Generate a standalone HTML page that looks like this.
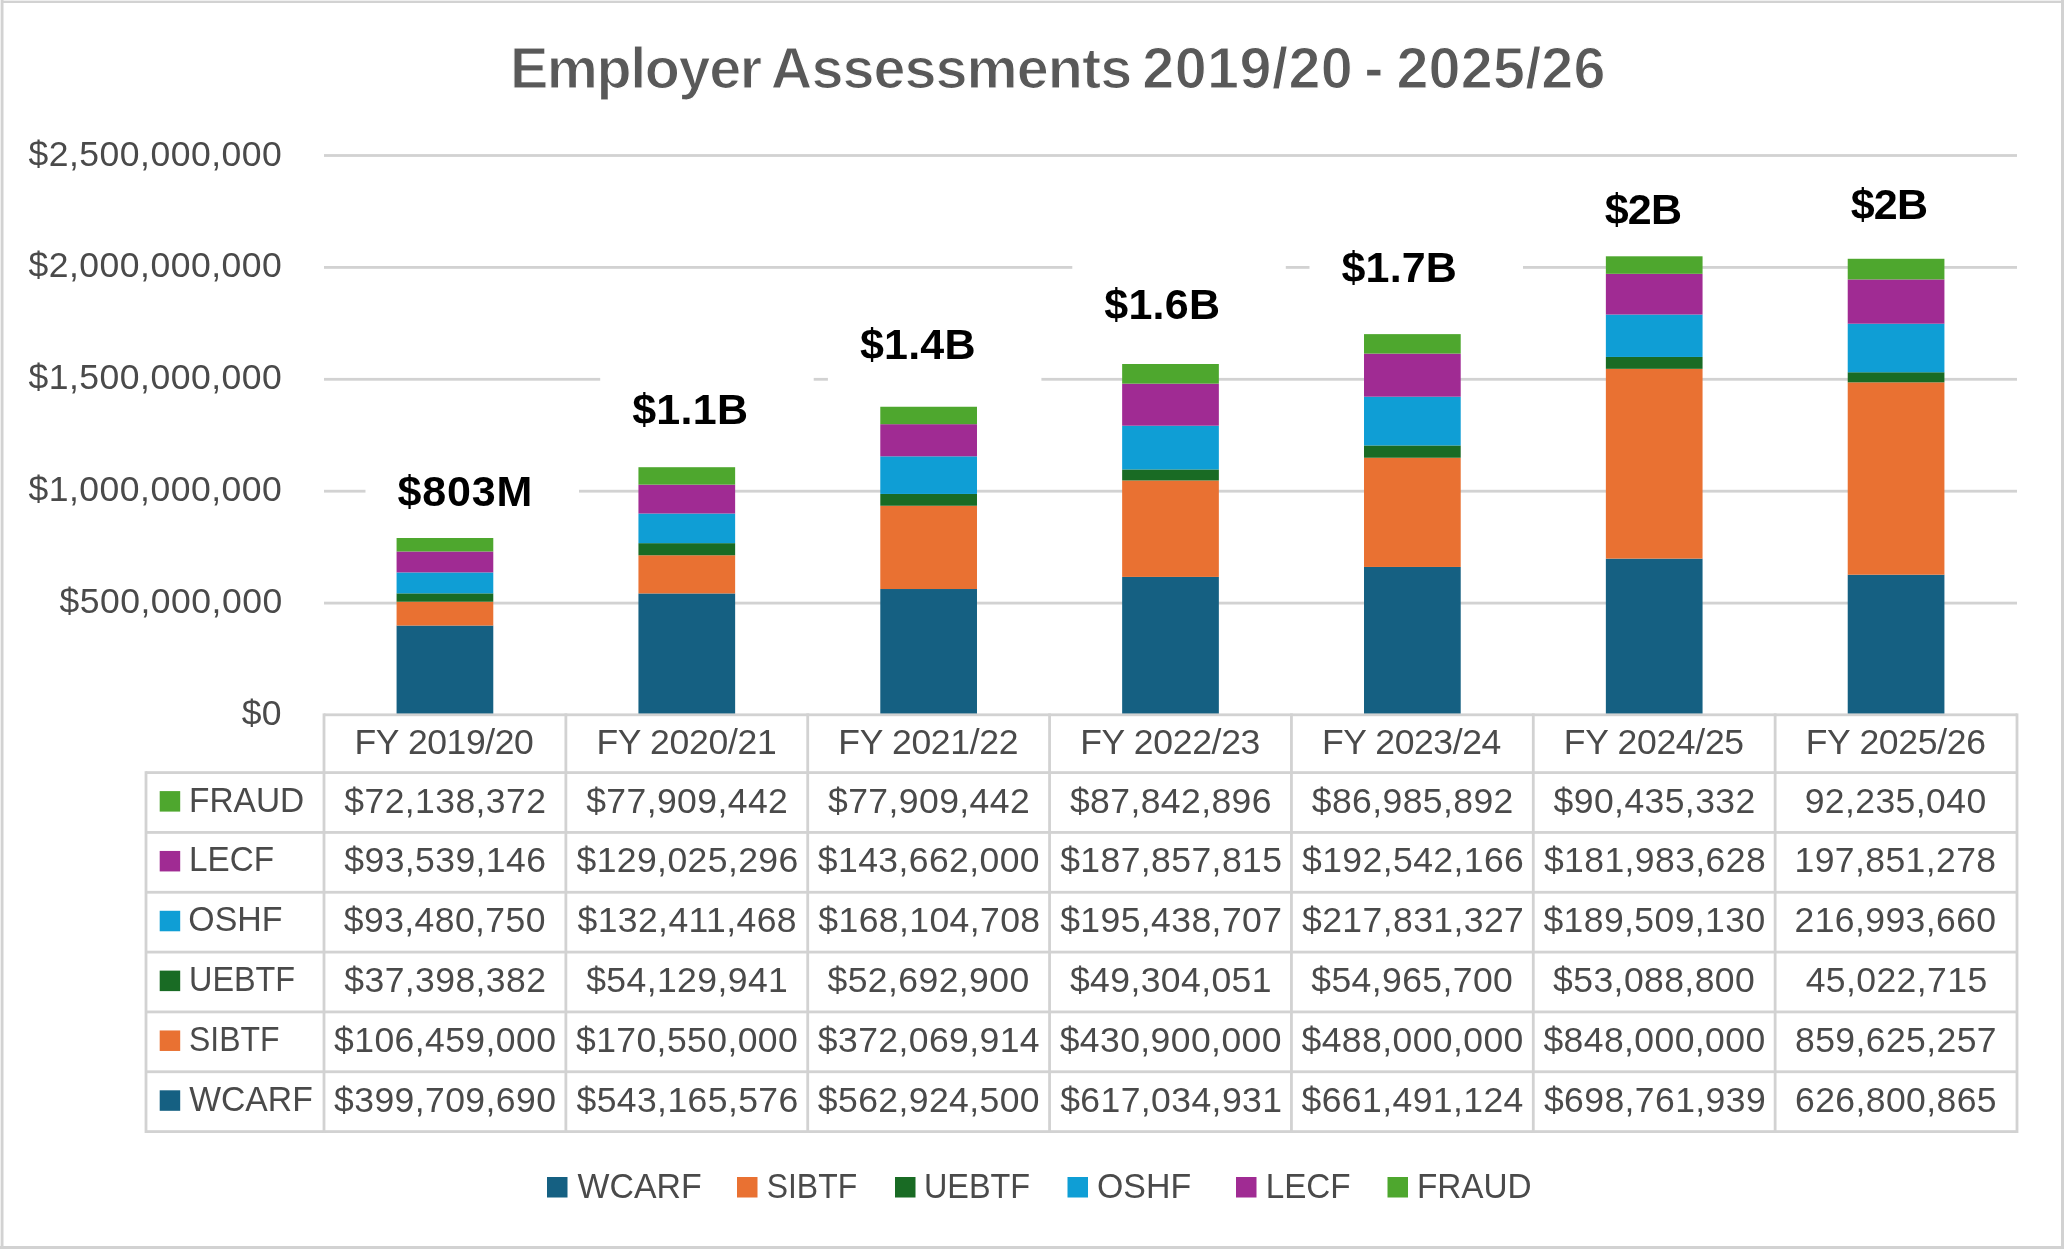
<!DOCTYPE html>
<html><head><meta charset="utf-8"><title>Employer Assessments 2019/20 - 2025/26</title>
<style>html,body{margin:0;padding:0;background:#fff;width:2064px;height:1249px;overflow:hidden} svg{will-change:transform} svg text{font-family:"Liberation Sans",sans-serif}</style>
</head><body>
<svg width="2064" height="1249" viewBox="0 0 2064 1249" style="display:block">
<rect x="0" y="0" width="2064" height="1249" fill="#ffffff"/>
<rect x="0" y="0" width="2064" height="1" fill="#efefef"/>
<rect x="0" y="1" width="2064" height="2" fill="#d2d2d2"/>
<rect x="0" y="0" width="1" height="1249" fill="#efefef"/>
<rect x="1" y="0" width="2.5" height="1249" fill="#d2d2d2"/>
<rect x="2061" y="0" width="3" height="1249" fill="#d2d2d2"/>
<rect x="0" y="1246" width="2064" height="3" fill="#d2d2d2"/>
<rect x="324" y="601.70" width="1693" height="2.8" fill="#d2d2d2"/>
<rect x="324" y="489.80" width="1693" height="2.8" fill="#d2d2d2"/>
<rect x="324" y="377.90" width="1693" height="2.8" fill="#d2d2d2"/>
<rect x="324" y="266.00" width="1693" height="2.8" fill="#d2d2d2"/>
<rect x="324" y="154.10" width="1693" height="2.8" fill="#d2d2d2"/>
<rect x="365.50" y="451.10" width="213.5" height="80" fill="#ffffff"/>
<rect x="600.20" y="368.70" width="213.5" height="80" fill="#ffffff"/>
<rect x="827.90" y="303.70" width="213.5" height="80" fill="#ffffff"/>
<rect x="1072.30" y="263.70" width="213.5" height="80" fill="#ffffff"/>
<rect x="1309.50" y="226.70" width="213.5" height="80" fill="#ffffff"/>
<rect x="1572.70" y="168.70" width="213.5" height="80" fill="#ffffff"/>
<rect x="1818.80" y="163.70" width="213.5" height="80" fill="#ffffff"/>
<rect x="396.58" y="625.54" width="96.7" height="89.46" fill="#156082"/>
<rect x="396.58" y="601.72" width="96.7" height="23.83" fill="#E97132"/>
<rect x="396.58" y="593.35" width="96.7" height="8.37" fill="#196B24"/>
<rect x="396.58" y="572.43" width="96.7" height="20.92" fill="#0F9ED5"/>
<rect x="396.58" y="551.49" width="96.7" height="20.93" fill="#A02B93"/>
<rect x="396.58" y="538.00" width="96.7" height="13.49" fill="#4EA72E"/>
<rect x="638.44" y="593.44" width="96.7" height="121.56" fill="#156082"/>
<rect x="638.44" y="555.27" width="96.7" height="38.17" fill="#E97132"/>
<rect x="638.44" y="543.16" width="96.7" height="12.11" fill="#196B24"/>
<rect x="638.44" y="513.52" width="96.7" height="29.63" fill="#0F9ED5"/>
<rect x="638.44" y="484.65" width="96.7" height="28.88" fill="#A02B93"/>
<rect x="638.44" y="467.21" width="96.7" height="17.44" fill="#4EA72E"/>
<rect x="880.29" y="589.02" width="96.7" height="125.98" fill="#156082"/>
<rect x="880.29" y="505.75" width="96.7" height="83.27" fill="#E97132"/>
<rect x="880.29" y="493.96" width="96.7" height="11.79" fill="#196B24"/>
<rect x="880.29" y="456.33" width="96.7" height="37.62" fill="#0F9ED5"/>
<rect x="880.29" y="424.18" width="96.7" height="32.15" fill="#A02B93"/>
<rect x="880.29" y="406.75" width="96.7" height="17.44" fill="#4EA72E"/>
<rect x="1122.15" y="576.91" width="96.7" height="138.09" fill="#156082"/>
<rect x="1122.15" y="480.47" width="96.7" height="96.44" fill="#E97132"/>
<rect x="1122.15" y="469.44" width="96.7" height="11.03" fill="#196B24"/>
<rect x="1122.15" y="425.70" width="96.7" height="43.74" fill="#0F9ED5"/>
<rect x="1122.15" y="383.66" width="96.7" height="42.04" fill="#A02B93"/>
<rect x="1122.15" y="364.00" width="96.7" height="19.66" fill="#4EA72E"/>
<rect x="1364.01" y="566.96" width="96.7" height="148.04" fill="#156082"/>
<rect x="1364.01" y="457.74" width="96.7" height="109.21" fill="#E97132"/>
<rect x="1364.01" y="445.44" width="96.7" height="12.30" fill="#196B24"/>
<rect x="1364.01" y="396.69" width="96.7" height="48.75" fill="#0F9ED5"/>
<rect x="1364.01" y="353.60" width="96.7" height="43.09" fill="#A02B93"/>
<rect x="1364.01" y="334.13" width="96.7" height="19.47" fill="#4EA72E"/>
<rect x="1605.86" y="558.62" width="96.7" height="156.38" fill="#156082"/>
<rect x="1605.86" y="368.83" width="96.7" height="189.78" fill="#E97132"/>
<rect x="1605.86" y="356.95" width="96.7" height="11.88" fill="#196B24"/>
<rect x="1605.86" y="314.54" width="96.7" height="42.41" fill="#0F9ED5"/>
<rect x="1605.86" y="273.81" width="96.7" height="40.73" fill="#A02B93"/>
<rect x="1605.86" y="256.30" width="96.7" height="17.51" fill="#4EA72E"/>
<rect x="1847.72" y="574.72" width="96.7" height="140.28" fill="#156082"/>
<rect x="1847.72" y="382.34" width="96.7" height="192.38" fill="#E97132"/>
<rect x="1847.72" y="372.26" width="96.7" height="10.08" fill="#196B24"/>
<rect x="1847.72" y="323.70" width="96.7" height="48.56" fill="#0F9ED5"/>
<rect x="1847.72" y="279.42" width="96.7" height="44.28" fill="#A02B93"/>
<rect x="1847.72" y="258.78" width="96.7" height="20.64" fill="#4EA72E"/>
<text x="397.50" y="506.10" font-size="43" font-weight="bold" fill="#000000" letter-spacing="0.850">$803M</text>
<text x="632.20" y="423.70" font-size="43" font-weight="bold" fill="#000000" letter-spacing="0.250">$1.1B</text>
<text x="859.90" y="358.70" font-size="43" font-weight="bold" fill="#000000" letter-spacing="0.225">$1.4B</text>
<text x="1104.30" y="318.70" font-size="43" font-weight="bold" fill="#000000" letter-spacing="0.225">$1.6B</text>
<text x="1341.50" y="281.70" font-size="43" font-weight="bold" fill="#000000" letter-spacing="0.150">$1.7B</text>
<text x="1604.70" y="223.70" font-size="43" font-weight="bold" fill="#000000" letter-spacing="-0.800">$2B</text>
<text x="1850.80" y="218.70" font-size="43" font-weight="bold" fill="#000000" letter-spacing="-0.850">$2B</text>
<text x="509.90" y="87.90" font-size="57.5" font-weight="bold" fill="#595959" letter-spacing="-1.400" stroke="#ffffff" stroke-width="1.2">Employer</text>
<text x="770.80" y="87.90" font-size="57.5" font-weight="bold" fill="#595959" letter-spacing="-0.940" stroke="#ffffff" stroke-width="1.2">Assessments</text>
<text x="1142.20" y="87.90" font-size="57.5" font-weight="bold" fill="#595959" letter-spacing="0.467" stroke="#ffffff" stroke-width="1.2">2019/20</text>
<text x="1364.30" y="87.90" font-size="57.5" font-weight="bold" fill="#595959" letter-spacing="0.000" stroke="#ffffff" stroke-width="1.2">-</text>
<text x="1396.40" y="87.90" font-size="57.5" font-weight="bold" fill="#595959" letter-spacing="0.217" stroke="#ffffff" stroke-width="1.2">2025/26</text>
<text x="241.70" y="725.00" font-size="35.5" font-weight="normal" fill="#4a4a4a" letter-spacing="0.300">$0</text>
<text x="59.50" y="613.10" font-size="35.5" font-weight="normal" fill="#4a4a4a" letter-spacing="0.500">$500,000,000</text>
<text x="28.50" y="501.20" font-size="35.5" font-weight="normal" fill="#4a4a4a" letter-spacing="0.500">$1,000,000,000</text>
<text x="28.50" y="389.30" font-size="35.5" font-weight="normal" fill="#4a4a4a" letter-spacing="0.500">$1,500,000,000</text>
<text x="28.50" y="277.40" font-size="35.5" font-weight="normal" fill="#4a4a4a" letter-spacing="0.500">$2,000,000,000</text>
<text x="28.50" y="165.50" font-size="35.5" font-weight="normal" fill="#4a4a4a" letter-spacing="0.500">$2,500,000,000</text>
<rect x="324" y="713.40" width="1693" height="2.8" fill="#d2d2d2"/>
<rect x="146" y="771.20" width="1871" height="2.8" fill="#d2d2d2"/>
<rect x="146" y="831.03" width="1871" height="2.8" fill="#d2d2d2"/>
<rect x="146" y="890.86" width="1871" height="2.8" fill="#d2d2d2"/>
<rect x="146" y="950.69" width="1871" height="2.8" fill="#d2d2d2"/>
<rect x="146" y="1010.52" width="1871" height="2.8" fill="#d2d2d2"/>
<rect x="146" y="1070.35" width="1871" height="2.8" fill="#d2d2d2"/>
<rect x="146" y="1130.18" width="1871" height="2.8" fill="#d2d2d2"/>
<rect x="144.60" y="771.20" width="2.8" height="361.78" fill="#d2d2d2"/>
<rect x="322.60" y="713.40" width="2.8" height="419.58" fill="#d2d2d2"/>
<rect x="564.46" y="713.40" width="2.8" height="419.58" fill="#d2d2d2"/>
<rect x="806.31" y="713.40" width="2.8" height="419.58" fill="#d2d2d2"/>
<rect x="1048.17" y="713.40" width="2.8" height="419.58" fill="#d2d2d2"/>
<rect x="1290.03" y="713.40" width="2.8" height="419.58" fill="#d2d2d2"/>
<rect x="1531.89" y="713.40" width="2.8" height="419.58" fill="#d2d2d2"/>
<rect x="1773.74" y="713.40" width="2.8" height="419.58" fill="#d2d2d2"/>
<rect x="2015.60" y="713.40" width="2.8" height="419.58" fill="#d2d2d2"/>
<text x="354.58" y="753.90" font-size="35.5" font-weight="normal" fill="#4a4a4a" letter-spacing="-0.411">FY 2019/20</text>
<text x="596.44" y="753.90" font-size="35.5" font-weight="normal" fill="#4a4a4a" letter-spacing="-0.300">FY 2020/21</text>
<text x="838.29" y="753.90" font-size="35.5" font-weight="normal" fill="#4a4a4a" letter-spacing="-0.300">FY 2021/22</text>
<text x="1080.15" y="753.90" font-size="35.5" font-weight="normal" fill="#4a4a4a" letter-spacing="-0.300">FY 2022/23</text>
<text x="1322.01" y="753.90" font-size="35.5" font-weight="normal" fill="#4a4a4a" letter-spacing="-0.411">FY 2023/24</text>
<text x="1563.86" y="753.90" font-size="35.5" font-weight="normal" fill="#4a4a4a" letter-spacing="-0.300">FY 2024/25</text>
<text x="1805.72" y="753.90" font-size="35.5" font-weight="normal" fill="#4a4a4a" letter-spacing="-0.300">FY 2025/26</text>
<rect x="159.7" y="791.10" width="20.5" height="20.5" fill="#4EA72E"/>
<text transform="translate(191.80,811.60) scale(0.9424,1)" x="-3.00" y="0" font-size="35.5" font-weight="normal" fill="#4a4a4a">FRAUD</text>
<text x="344.33" y="812.50" font-size="35.5" font-weight="normal" fill="#4a4a4a" letter-spacing="0.420">$72,138,372</text>
<text x="586.19" y="812.50" font-size="35.5" font-weight="normal" fill="#4a4a4a" letter-spacing="0.420">$77,909,442</text>
<text x="828.04" y="812.50" font-size="35.5" font-weight="normal" fill="#4a4a4a" letter-spacing="0.420">$77,909,442</text>
<text x="1069.90" y="812.50" font-size="35.5" font-weight="normal" fill="#4a4a4a" letter-spacing="0.420">$87,842,896</text>
<text x="1311.76" y="812.50" font-size="35.5" font-weight="normal" fill="#4a4a4a" letter-spacing="0.420">$86,985,892</text>
<text x="1553.61" y="812.50" font-size="35.5" font-weight="normal" fill="#4a4a4a" letter-spacing="0.420">$90,435,332</text>
<text x="1804.68" y="812.50" font-size="35.5" font-weight="normal" fill="#4a4a4a" letter-spacing="0.420">92,235,040</text>
<rect x="159.7" y="850.94" width="20.5" height="20.5" fill="#A02B93"/>
<text transform="translate(191.80,871.44) scale(0.9368,1)" x="-3.00" y="0" font-size="35.5" font-weight="normal" fill="#4a4a4a">LECF</text>
<text x="344.33" y="872.34" font-size="35.5" font-weight="normal" fill="#4a4a4a" letter-spacing="0.420">$93,539,146</text>
<text x="576.48" y="872.34" font-size="35.5" font-weight="normal" fill="#4a4a4a" letter-spacing="0.420">$129,025,296</text>
<text x="817.83" y="872.34" font-size="35.5" font-weight="normal" fill="#4a4a4a" letter-spacing="0.420">$143,662,000</text>
<text x="1060.19" y="872.34" font-size="35.5" font-weight="normal" fill="#4a4a4a" letter-spacing="0.420">$187,857,815</text>
<text x="1302.05" y="872.34" font-size="35.5" font-weight="normal" fill="#4a4a4a" letter-spacing="0.420">$192,542,166</text>
<text x="1543.90" y="872.34" font-size="35.5" font-weight="normal" fill="#4a4a4a" letter-spacing="0.420">$181,983,628</text>
<text x="1794.47" y="872.34" font-size="35.5" font-weight="normal" fill="#4a4a4a" letter-spacing="0.420">197,851,278</text>
<rect x="159.7" y="910.78" width="20.5" height="20.5" fill="#0F9ED5"/>
<text transform="translate(190.20,931.28) scale(0.9542,1)" x="-2.00" y="0" font-size="35.5" font-weight="normal" fill="#4a4a4a">OSHF</text>
<text x="343.83" y="932.18" font-size="35.5" font-weight="normal" fill="#4a4a4a" letter-spacing="0.420">$93,480,750</text>
<text x="577.48" y="932.18" font-size="35.5" font-weight="normal" fill="#4a4a4a" letter-spacing="0.420">$132,411,468</text>
<text x="818.33" y="932.18" font-size="35.5" font-weight="normal" fill="#4a4a4a" letter-spacing="0.420">$168,104,708</text>
<text x="1060.19" y="932.18" font-size="35.5" font-weight="normal" fill="#4a4a4a" letter-spacing="0.420">$195,438,707</text>
<text x="1302.05" y="932.18" font-size="35.5" font-weight="normal" fill="#4a4a4a" letter-spacing="0.420">$217,831,327</text>
<text x="1543.40" y="932.18" font-size="35.5" font-weight="normal" fill="#4a4a4a" letter-spacing="0.420">$189,509,130</text>
<text x="1794.47" y="932.18" font-size="35.5" font-weight="normal" fill="#4a4a4a" letter-spacing="0.420">216,993,660</text>
<rect x="159.7" y="970.62" width="20.5" height="20.5" fill="#196B24"/>
<text transform="translate(191.80,991.12) scale(0.9115,1)" x="-3.00" y="0" font-size="35.5" font-weight="normal" fill="#4a4a4a">UEBTF</text>
<text x="344.33" y="992.02" font-size="35.5" font-weight="normal" fill="#4a4a4a" letter-spacing="0.420">$37,398,382</text>
<text x="586.19" y="992.02" font-size="35.5" font-weight="normal" fill="#4a4a4a" letter-spacing="0.420">$54,129,941</text>
<text x="827.54" y="992.02" font-size="35.5" font-weight="normal" fill="#4a4a4a" letter-spacing="0.420">$52,692,900</text>
<text x="1069.90" y="992.02" font-size="35.5" font-weight="normal" fill="#4a4a4a" letter-spacing="0.420">$49,304,051</text>
<text x="1311.26" y="992.02" font-size="35.5" font-weight="normal" fill="#4a4a4a" letter-spacing="0.420">$54,965,700</text>
<text x="1553.11" y="992.02" font-size="35.5" font-weight="normal" fill="#4a4a4a" letter-spacing="0.420">$53,088,800</text>
<text x="1805.68" y="992.02" font-size="35.5" font-weight="normal" fill="#4a4a4a" letter-spacing="0.420">45,022,715</text>
<rect x="159.7" y="1030.46" width="20.5" height="20.5" fill="#E97132"/>
<text transform="translate(190.80,1050.96) scale(0.8990,1)" x="-2.00" y="0" font-size="35.5" font-weight="normal" fill="#4a4a4a">SIBTF</text>
<text x="334.12" y="1051.86" font-size="35.5" font-weight="normal" fill="#4a4a4a" letter-spacing="0.420">$106,459,000</text>
<text x="575.98" y="1051.86" font-size="35.5" font-weight="normal" fill="#4a4a4a" letter-spacing="0.420">$170,550,000</text>
<text x="817.83" y="1051.86" font-size="35.5" font-weight="normal" fill="#4a4a4a" letter-spacing="0.420">$372,069,914</text>
<text x="1059.69" y="1051.86" font-size="35.5" font-weight="normal" fill="#4a4a4a" letter-spacing="0.420">$430,900,000</text>
<text x="1301.55" y="1051.86" font-size="35.5" font-weight="normal" fill="#4a4a4a" letter-spacing="0.420">$488,000,000</text>
<text x="1543.40" y="1051.86" font-size="35.5" font-weight="normal" fill="#4a4a4a" letter-spacing="0.420">$848,000,000</text>
<text x="1794.97" y="1051.86" font-size="35.5" font-weight="normal" fill="#4a4a4a" letter-spacing="0.420">859,625,257</text>
<rect x="159.7" y="1090.30" width="20.5" height="20.5" fill="#156082"/>
<text transform="translate(189.20,1110.80) scale(0.9496,1)" x="0.00" y="0" font-size="35.5" font-weight="normal" fill="#4a4a4a">WCARF</text>
<text x="334.12" y="1111.70" font-size="35.5" font-weight="normal" fill="#4a4a4a" letter-spacing="0.420">$399,709,690</text>
<text x="576.48" y="1111.70" font-size="35.5" font-weight="normal" fill="#4a4a4a" letter-spacing="0.420">$543,165,576</text>
<text x="817.83" y="1111.70" font-size="35.5" font-weight="normal" fill="#4a4a4a" letter-spacing="0.420">$562,924,500</text>
<text x="1060.19" y="1111.70" font-size="35.5" font-weight="normal" fill="#4a4a4a" letter-spacing="0.420">$617,034,931</text>
<text x="1301.55" y="1111.70" font-size="35.5" font-weight="normal" fill="#4a4a4a" letter-spacing="0.420">$661,491,124</text>
<text x="1543.90" y="1111.70" font-size="35.5" font-weight="normal" fill="#4a4a4a" letter-spacing="0.420">$698,761,939</text>
<text x="1794.97" y="1111.70" font-size="35.5" font-weight="normal" fill="#4a4a4a" letter-spacing="0.420">626,800,865</text>
<rect x="547" y="1177" width="20.5" height="20.5" fill="#156082"/>
<text transform="translate(577.50,1197.50) scale(0.9535,1)" x="0.00" y="0" font-size="35.5" font-weight="normal" fill="#4a4a4a">WCARF</text>
<rect x="737" y="1177" width="20.5" height="20.5" fill="#E97132"/>
<text transform="translate(768.50,1197.50) scale(0.8990,1)" x="-2.00" y="0" font-size="35.5" font-weight="normal" fill="#4a4a4a">SIBTF</text>
<rect x="895" y="1177" width="20.5" height="20.5" fill="#196B24"/>
<text transform="translate(926.70,1197.50) scale(0.9115,1)" x="-3.00" y="0" font-size="35.5" font-weight="normal" fill="#4a4a4a">UEBTF</text>
<rect x="1067.5" y="1177" width="20.5" height="20.5" fill="#0F9ED5"/>
<text transform="translate(1098.90,1197.50) scale(0.9542,1)" x="-2.00" y="0" font-size="35.5" font-weight="normal" fill="#4a4a4a">OSHF</text>
<rect x="1236" y="1177" width="20.5" height="20.5" fill="#A02B93"/>
<text transform="translate(1268.50,1197.50) scale(0.9368,1)" x="-3.00" y="0" font-size="35.5" font-weight="normal" fill="#4a4a4a">LECF</text>
<rect x="1387.5" y="1177" width="20.5" height="20.5" fill="#4EA72E"/>
<text transform="translate(1419.70,1197.50) scale(0.9390,1)" x="-3.00" y="0" font-size="35.5" font-weight="normal" fill="#4a4a4a">FRAUD</text>
</svg>
</body></html>
